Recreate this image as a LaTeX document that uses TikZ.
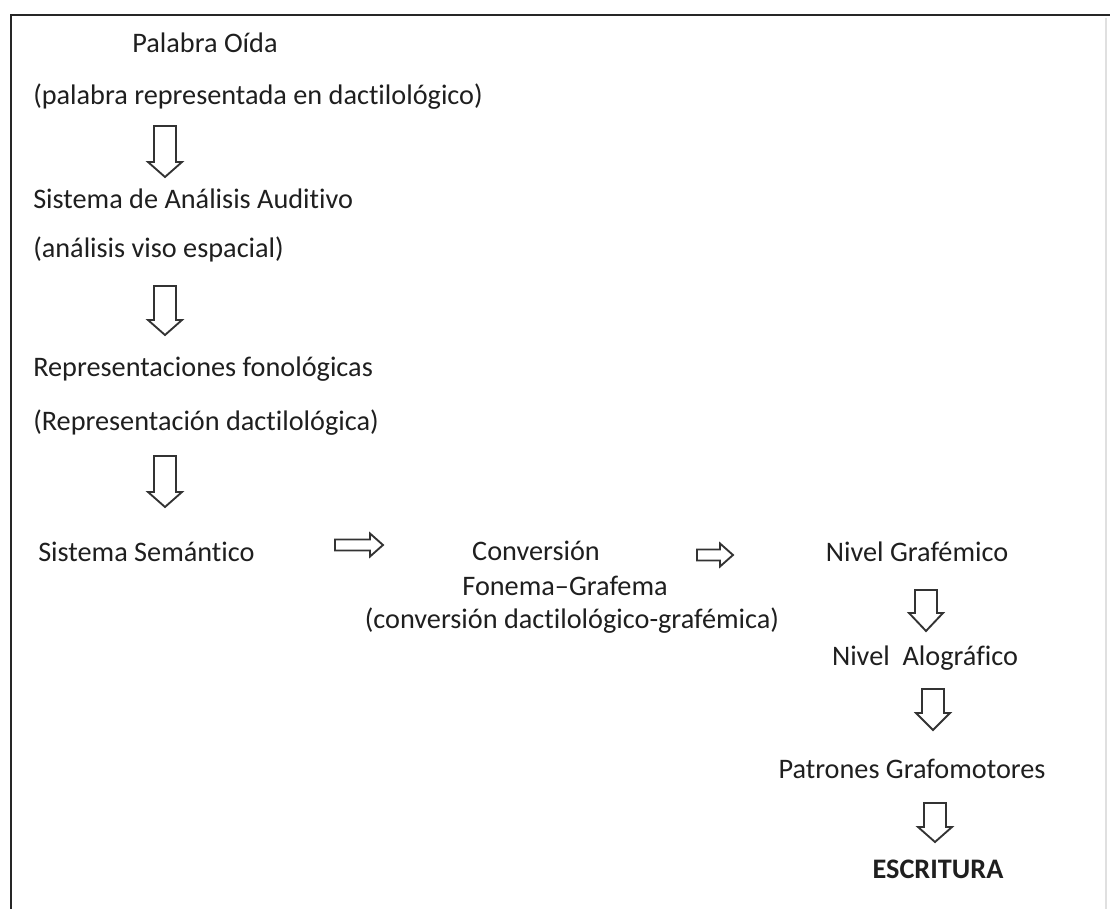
\documentclass[tikz,border=0pt]{standalone}
\usepackage{fontspec}
\setmainfont[RawFeature=-liga]{Carlito}
\begin{document}
\begin{tikzpicture}[x=0.75pt,y=-0.75pt,
  lbl/.style={inner sep=0pt,text=black!88,font=\fontsize{21.2}{25}\selectfont},
  blk/.style={draw=black!80,line width=1.4pt,line join=miter,fill=white},
  frame/.style={draw=black!85,line width=2.2pt}]
\useasboundingbox (0,0) rectangle (1110,909);
\fill[white] (0,0) rectangle (1110,909);
% frame
\draw[frame] (11,909) -- (11,15) -- (1110,15);
\draw[black!12,line width=1pt] (1106,18) -- (1106,909);
% text nodes
\node[lbl,anchor=base] (n1) at (205,53) {Palabra Oída};
\node[lbl,anchor=base west] (n2) at (33,105) {(palabra representada en dactilológico)};
\node[lbl,anchor=base west] (n3) at (33,209) {Sistema de Análisis Auditivo};
\node[lbl,anchor=base west] (n4) at (33,258) {(análisis viso espacial)};
\node[lbl,anchor=base west] (n5) at (33,376) {Representaciones fonológicas};
\node[lbl,anchor=base west] (n6) at (33,430) {(Representación dactilológica)};
\node[lbl,anchor=base west] (n7) at (38,561) {Sistema Semántico};
\node[lbl,anchor=base] (n8) at (536,560) {Conversión};
\node[lbl,anchor=base] (n9) at (565,595) {Fonema–Grafema};
\node[lbl,anchor=base] (n10) at (572,628) {(conversión dactilológico-grafémica)};
\node[lbl,anchor=base] (n11) at (917,561) {Nivel Grafémico};
\node[lbl,anchor=base] (n12) at (925,665) {Nivel\ \ Alográfico};
\node[lbl,anchor=base] (n13) at (912,778) {Patrones Grafomotores};
\node[lbl,anchor=base,font=\fontsize{21.2}{25}\selectfont\bfseries] (n14) at (938,878) {ESCRITURA};
% hollow block arrows
\newcommand\darr[4]{% x, ytop, ybottom, headlen
  \draw[blk] (#1-11,#2) -- (#1+11,#2) -- (#1+11,#3-#4) -- (#1+17,#3-#4) -- (#1,#3) -- (#1-17,#3-#4) -- (#1-11,#3-#4) -- cycle;}
\newcommand\rarr[4]{% xleft, xright, ycentre, headlen
  \draw[blk] (#1,#3-5.5) -- (#2-#4,#3-5.5) -- (#2-#4,#3-11.5) -- (#2,#3) -- (#2-#4,#3+11.5) -- (#2-#4,#3+5.5) -- (#1,#3+5.5) -- cycle;}
\darr{165}{126}{177}{15}
\darr{165}{286}{335}{15}
\darr{165}{456}{507}{15}
\darr{926}{590}{631}{18}
\darr{933}{689}{730}{17}
\darr{935}{803}{842}{15}
\rarr{335}{383}{545}{13}
\rarr{697}{733}{555}{13}
\end{tikzpicture}
\end{document}
